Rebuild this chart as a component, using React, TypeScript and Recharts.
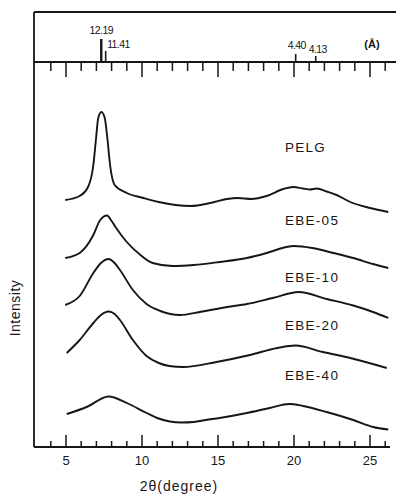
import React from 'react';
import { ComposedChart, Line, XAxis, YAxis, ReferenceLine, Scatter } from 'recharts';

const FONT = "'Liberation Sans', Arial, sans-serif";
const INK = '#161616';

// 2θ scale: both panels share the same degrees-per-pixel
const X_MIN = 2.895;
const X_MAX_TOP = 26.71;
const X_MAX_MAIN = 26.316;

const degreeTicks = [4, 5, 6, 7, 8, 9, 10, 11, 12, 13, 14, 15, 16, 17, 18, 19, 20, 21, 22, 23, 24, 25, 26];

// d-spacing markers (Å) on the upper strip
const dSpacings = ['12.19', '11.41', '4.40', '4.13'];
const markerAngles = [7.32, 7.61, 20.11, 21.43];
const markerHeights = [23, 11, 8, 6];

// traces (2θ in degree, intensity in a.u. incl. vertical offset)
const pelgAngle = [4.95, 5.9, 6.45, 6.8, 6.98, 7.12, 7.33, 7.55, 7.72, 7.9, 8.2, 9.0, 10.1, 11.1, 12.2, 13.2, 14.5, 15.6, 16.3, 17.2, 18.2, 19.3, 19.95, 20.6, 21.05, 21.5, 22.15, 22.8, 23.7, 25.0, 26.2];
const pelgIntensity = [247, 251, 260, 282, 309, 329, 335, 329, 309, 282, 262, 254, 249, 245, 242, 241, 244, 248, 249, 248, 251, 258, 260, 258.5, 257.5, 258.5, 255.5, 252, 245, 239, 235];

const ebe05Angle = [4.95, 5.9, 6.8, 7.25, 7.7, 8.0, 8.3, 9.0, 9.9, 10.7, 12.0, 13.4, 15.1, 16.9, 18.2, 19.5, 20.0, 21.2, 22.6, 23.9, 25.2, 26.2];
const ebe05Intensity = [189, 194, 212, 227, 231.5, 226, 219, 205, 192, 184, 181, 182, 185, 189, 194, 200, 201, 199, 194, 189, 183, 179];

const ebe10Angle = [4.95, 5.9, 6.8, 7.3, 7.8, 8.2, 8.55, 9.4, 10.3, 11.2, 12.5, 13.8, 15.6, 16.9, 18.6, 20.3, 22.15, 23.9, 25.2, 26.2];
const ebe10Intensity = [142, 151, 174, 184, 188, 184, 177, 157, 143, 136, 132, 135, 140, 143, 149, 155, 148, 141.5, 135, 129];

const ebe20Angle = [5.05, 5.9, 6.8, 7.3, 7.8, 8.2, 8.55, 9.4, 10.3, 11.1, 11.8, 12.7, 14.9, 17.1, 18.9, 20.1, 21.9, 23.7, 26.1];
const ebe20Intensity = [94, 107, 124, 132, 135.5, 133, 127, 107, 91, 84, 81, 80, 85, 92, 99, 101.5, 95, 89, 79];

const ebe40Angle = [5.05, 6.36, 7.8, 9.0, 10.3, 11.0, 11.84, 12.6, 13.4, 14.2, 15.1, 16.9, 18.4, 19.7, 20.6, 22.15, 23.9, 25.2, 26.2];
const ebe40Intensity = [33, 40, 50.5, 44, 34, 29, 25.5, 24.5, 25, 27, 29, 34, 39, 43, 41, 35, 27, 20, 17.5];

const sampleNames = ['PELG', 'EBE-05', 'EBE-10', 'EBE-20', 'EBE-40'];

const toPoints = (a: number[], v: number[]) => a.map((x, i) => ({ a: x, v: v[i] }));

const traces = [
  toPoints(pelgAngle, pelgIntensity),
  toPoints(ebe05Angle, ebe05Intensity),
  toPoints(ebe10Angle, ebe10Intensity),
  toPoints(ebe20Angle, ebe20Intensity),
  toPoints(ebe40Angle, ebe40Intensity),
];

// where each sample name sits (data units)
const nameSpots = [
  { a: 19.4, v: 300 },
  { a: 19.4, v: 227 },
  { a: 19.4, v: 170 },
  { a: 19.4, v: 122 },
  { a: 19.4, v: 72 },
].map((p, i) => ({ ...p, name: sampleNames[i] }));

// marker label placement
const markerLabelAnchor = ['middle', 'start', 'middle', 'middle'];
const markerLabelDx = [0, 1.5, 1, 2];
const markerLabelDy = [-5, -3, -5, -3];

const markerTops = markerAngles.map((a, i) => ({ a, v: markerHeights[i], i }));

const topTick = (p: any) => {
  const len = p.payload.value % 5 === 0 ? 15 : 9;
  return <line x1={p.x} x2={p.x} y1={p.y} y2={p.y + len} stroke={INK} strokeWidth={1.5} />;
};

const bottomTick = (p: any) => {
  const v = p.payload.value;
  const major = v % 5 === 0;
  return (
    <g>
      <line x1={p.x} x2={p.x} y1={p.y} y2={p.y - (major ? 12 : 6)} stroke={INK} strokeWidth={1.5} />
      {major && (
        <text x={p.x} y={p.y + 18} textAnchor="middle" fontSize={13} fontFamily={FONT} fill={INK}>
          {v}
        </text>
      )}
    </g>
  );
};

const markerLabel = (p: any) => {
  const i = p.payload.i;
  return (
    <text
      x={p.cx + markerLabelDx[i]}
      y={p.cy + markerLabelDy[i]}
      textAnchor={markerLabelAnchor[i]}
      fontSize={10.5}
      letterSpacing={-0.6}
      fontFamily={FONT}
      fill={INK}
    >
      {dSpacings[i]}
    </text>
  );
};

const nameLabel = (p: any) => (
  <text x={p.cx} y={p.cy} dominantBaseline="central" fontSize={13.5} letterSpacing={1.3} fontFamily={FONT} fill={INK}>
    {p.payload.name}
  </text>
);

const axisStroke = { stroke: INK, strokeWidth: 1.8 };

export default function App() {
  return (
    <div style={{ position: 'absolute', left: 0, top: 0, width: 396, height: 494, background: '#fff' }}>
      <style>{'.recharts-surface{overflow:visible}'}</style>
      <div style={{ position: 'absolute', left: 0, top: 0 }}>
        <ComposedChart width={396} height={63} margin={{ top: 11, right: 0, bottom: 0, left: 33 }}>
          <XAxis
            xAxisId="frame"
            orientation="top"
            type="number"
            domain={[X_MIN, X_MAX_TOP]}
            allowDataOverflow
            height={1}
            tick={false}
            tickLine={false}
            axisLine={axisStroke}
          />
          <XAxis
            dataKey="a"
            type="number"
            domain={[X_MIN, X_MAX_TOP]}
            allowDataOverflow
            ticks={degreeTicks}
            interval={0}
            height={1}
            tickSize={0}
            tickMargin={0}
            tickLine={false}
            axisLine={axisStroke}
            tick={topTick}
            label={{
              content: () => (
                <text x={372} y={48} textAnchor="middle" fontSize={11} fontWeight="bold" fontFamily={FONT} fill={INK}>
                  (Å)
                </text>
              ),
            }}
          />
          <YAxis type="number" domain={[0, 50]} width={1} tick={false} tickLine={false} axisLine={axisStroke} />
          {markerAngles.map((a, i) => (
            <ReferenceLine
              key={dSpacings[i]}
              segment={[
                { x: a, y: 0 },
                { x: a, y: markerHeights[i] },
              ]}
              stroke={INK}
              strokeWidth={i === 0 ? 2.4 : 1.6}
            />
          ))}
          <Scatter data={markerTops} dataKey="v" shape={markerLabel} isAnimationActive={false} />
        </ComposedChart>
      </div>
      <div style={{ position: 'absolute', left: 0, top: 62 }}>
        <ComposedChart width={396} height={432} margin={{ top: 0, right: 6, bottom: 0, left: 0 }}>
          <XAxis
            dataKey="a"
            type="number"
            domain={[X_MIN, X_MAX_MAIN]}
            allowDataOverflow
            ticks={degreeTicks}
            interval={0}
            height={47}
            tickSize={0}
            tickMargin={0}
            tickLine={false}
            axisLine={axisStroke}
            tick={bottomTick}
            label={{
              content: (p: any) => (
                <text
                  x={p.viewBox.x + 145}
                  y={p.viewBox.y + 39}
                  textAnchor="middle"
                  dominantBaseline="central"
                  fontSize={14}
                  letterSpacing={1}
                  fontFamily={FONT}
                  fill={INK}
                >
                  2θ(degree)
                </text>
              ),
            }}
          />
          <YAxis
            type="number"
            domain={[0, 385]}
            width={34}
            tick={false}
            tickLine={false}
            axisLine={axisStroke}
            label={{
              content: () => (
                <text
                  x={15}
                  y={246}
                  transform="rotate(-90 15 246)"
                  textAnchor="middle"
                  dominantBaseline="central"
                  fontSize={14}
                  letterSpacing={0.5}
                  fontFamily={FONT}
                  fill={INK}
                >
                  Intensity
                </text>
              ),
            }}
          />
          {traces.map((d, i) => (
            <Line
              key={sampleNames[i]}
              data={d}
              dataKey="v"
              type="monotone"
              stroke={INK}
              strokeWidth={1.9}
              dot={false}
              activeDot={false}
              isAnimationActive={false}
            />
          ))}
          <Scatter data={nameSpots} dataKey="v" shape={nameLabel} isAnimationActive={false} />
        </ComposedChart>
      </div>
    </div>
  );
}
